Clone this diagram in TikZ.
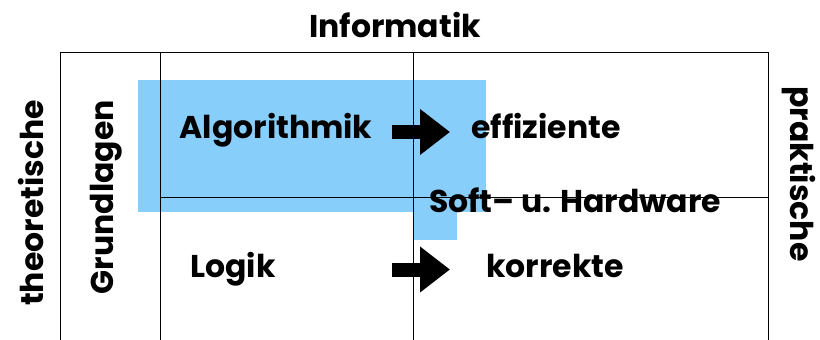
\documentclass[tikz,border=0pt]{standalone}
\usepackage{fontspec}
\setmainfont{Poppins}
\usetikzlibrary{arrows.meta}
\definecolor{hilite}{HTML}{87CEFA}

\begin{document}
\begin{tikzpicture}[
  x=1pt,y=-1pt,
  lbl/.style={font=\fontsize{31.5}{36}\selectfont\bfseries,inner sep=0pt,anchor=base},
  fat/.style={-{Triangle[length=30pt,width=44pt]},line width=14pt},
  grid/.style={line width=1pt}
]
  \useasboundingbox (0,0) rectangle (820,340);
  % blue area
  \fill[hilite] (138,80) rectangle (486,212);
  \fill[hilite] (413,212) rectangle (457,240);
  % table lines
  \draw[grid] (60,340) |- (768,52) -- (768,340);
  \draw[grid] (160,52) -- (160,340);
  \draw[grid] (413,52) -- (413,340);
  \draw[grid] (160,197) -- (768,197);

  \node[lbl] (info) at (395,37) {Informatik};
  \node[lbl,rotate=90] (theo) at (43,203) {theoretische};
  \node[lbl,rotate=90] (grund) at (113,197) {Grundlagen};
  \node[lbl,rotate=-90] (prak) at (790,174) {praktische};
  \node[lbl] (algo) at (276,138) {Algorithmik};
  \node[lbl] (effz) at (546,138) {effiziente};
  \node[lbl] (shw) at (575,212) {Soft– u. Hardware};
  \node[lbl] (logik) at (233,277) {Logik};
  \node[lbl] (korr) at (555,277) {korrekte};

  \coordinate (a1) at (392,132);
  \coordinate (a2) at (450,132);
  \coordinate (b1) at (392,269.5);
  \coordinate (b2) at (450,269.5);
  \draw[fat] (a1) -- (a2);
  \draw[fat] (b1) -- (b2);
\end{tikzpicture}
\end{document}
